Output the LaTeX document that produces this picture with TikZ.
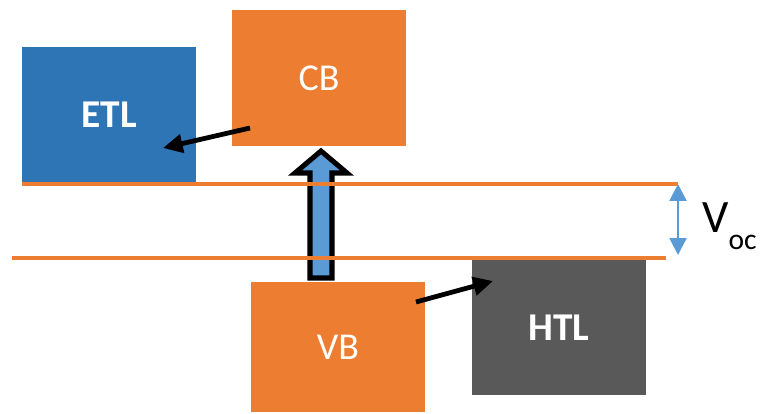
\documentclass[tikz,border=0pt]{standalone}
\usepackage{fontspec}
\setmainfont{Carlito}
\usetikzlibrary{arrows.meta}
\definecolor{bandorange}{HTML}{ED7D31}
\definecolor{etlblue}{HTML}{2E75B6}
\definecolor{lightblue}{HTML}{5B9BD5}
\definecolor{htlgray}{HTML}{595959}

\begin{document}
\begin{tikzpicture}[x=0.025cm, y=-0.025cm,
		bandbox/.style={rectangle, inner sep=0, outer sep=0, minimum width=4.35cm, text=white},
		level/.style={bandorange, line width=2.2pt},
		transfer/.style={-{Triangle[length=14pt,width=13pt]}, line width=3.4pt},
		bigarrow/.style={fill=lightblue, draw=black, line width=3.6pt, line join=miter}
		]
		\useasboundingbox (0,0) rectangle (760,413);

		% band boxes
		\node[bandbox, fill=etlblue, minimum height=3.375cm, font=\fontsize{28}{32}\selectfont\bfseries](ETL) at (109,114.5){ETL};
		\node[bandbox, fill=bandorange, minimum height=3.4cm, font=\fontsize{27}{30}\selectfont](CB) at (319,78){CB};
		\node[bandbox, fill=bandorange, minimum height=3.25cm, font=\fontsize{27}{30}\selectfont](VB) at (338,347){VB};
		\node[bandbox, fill=htlgray, minimum height=3.375cm, font=\fontsize{28}{32}\selectfont\bfseries](HTL) at (559,327.5){HTL};

		% excitation arrow
		\draw[bigarrow] (310,278) -- (310,173) -- (295,173) -- (321,151)
			-- (347,173) -- (332,173) -- (332,278) -- cycle;

		% quasi Fermi levels
		\coordinate (L1a) at (22,184);
		\coordinate (L1b) at (678,184);
		\coordinate (L2a) at (12,258);
		\coordinate (L2b) at (666,258);
		\draw[level] (L1a) -- (L1b);
		\draw[level] (L2a) -- (L2b);

		% charge transfer
		\coordinate (cbout) at (250,128);
		\coordinate (etlin) at (163,148);
		\coordinate (vbout) at (416,302);
		\coordinate (htlin) at (493,281);
		\draw[transfer] (cbout) --(etlin);
		\draw[transfer] (vbout) --(htlin);

		% open circuit voltage
		\coordinate (vtop) at (678,184);
		\coordinate (vbot) at (678,255);
		\draw[lightblue, line width=1.6pt, {Triangle[length=12pt,width=12pt]}-{Triangle[length=12pt,width=12pt]}] (vtop) --(vbot);
		\node[anchor=base west, inner sep=0](Voc) at (702,232){\fontsize{33}{36}\selectfont V\raisebox{-12.5pt}{\fontsize{21}{24}\selectfont oc}};
	\end{tikzpicture}
\end{document}
